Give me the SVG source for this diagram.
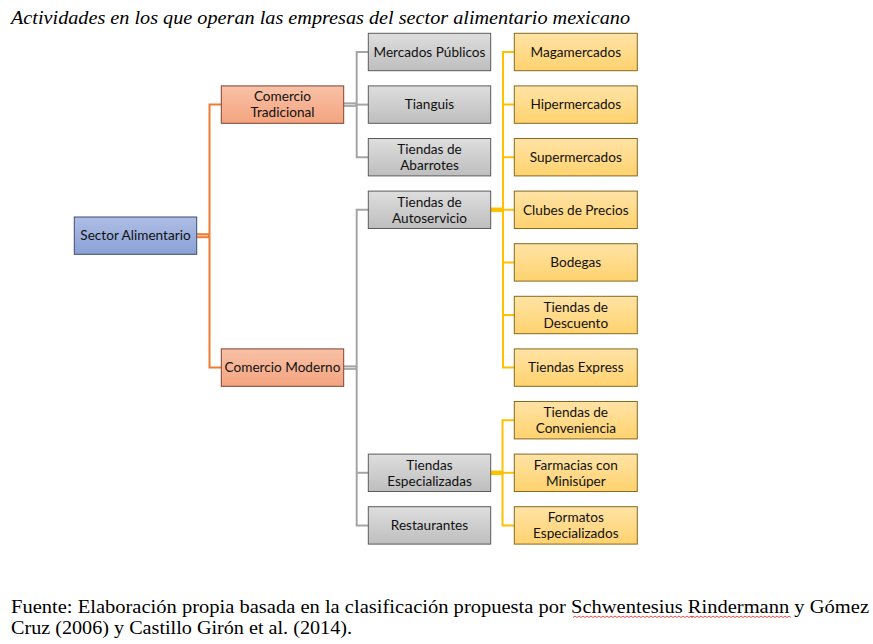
<svg xmlns="http://www.w3.org/2000/svg" width="873" height="644" viewBox="0 0 873 644">
<defs>
<linearGradient id="gBlue" x1="0" y1="0" x2="0" y2="1"><stop offset="0" stop-color="#AEBDE4"/><stop offset="1" stop-color="#8AA2D6"/></linearGradient>
<linearGradient id="gOrange" x1="0" y1="0" x2="0" y2="1"><stop offset="0" stop-color="#F8C1A6"/><stop offset="1" stop-color="#F4A47F"/></linearGradient>
<linearGradient id="gGray" x1="0" y1="0" x2="0" y2="1"><stop offset="0" stop-color="#DEDEDE"/><stop offset="1" stop-color="#BEBEBE"/></linearGradient>
<linearGradient id="gYellow" x1="0" y1="0" x2="0" y2="1"><stop offset="0" stop-color="#FFE3A6"/><stop offset="1" stop-color="#FFD26E"/></linearGradient>
</defs>
<style>
.box{stroke-width:1}
.blue{fill:url(#gBlue);stroke:#3E4C6E}
.orange{fill:url(#gOrange);stroke:#7E4330}
.gray{fill:url(#gGray);stroke:#5B5B5B}
.yellow{fill:url(#gYellow);stroke:#84691F}
.t{font-family:Lato,"Liberation Sans",Arial,sans-serif;font-size:13.6px;fill:#111;text-anchor:middle}
.co{stroke:#ED7D31;stroke-width:2;fill:none}
.cg{stroke:#A5A5A5;stroke-width:2;fill:none}
.cy{stroke:#FFC000;stroke-width:2;fill:none}
.dbl-o{stroke:#ED7D31;stroke-width:5;fill:none}
.dbl-oi{stroke:#F8CBAD;stroke-width:1.2;fill:none}
.dbl-g{stroke:#A5A5A5;stroke-width:4.5;fill:none}
.dbl-gi{stroke:#DCDCDC;stroke-width:1;fill:none}
.dbl-y{stroke:#FFC000;stroke-width:4.5;fill:none}
.serif{font-family:"Liberation Serif","Times New Roman",serif;fill:#000}
</style>

<text class="serif" x="11" y="24" font-size="18.5" font-style="italic" textLength="619" lengthAdjust="spacingAndGlyphs">Actividades en los que operan las empresas del sector alimentario mexicano</text>

<g id="connectors">
<path class="dbl-o" d="M196.7 235.7H209.5"/>
<path class="dbl-oi" d="M196.7 235.7H208"/>
<path class="co" d="M221.3 104.6H209.5V367.6H221.3"/>
<path class="dbl-g" d="M343.7 104.6H356.7"/>
<path class="dbl-gi" d="M343.7 104.6H355.5"/>
<path class="cg" d="M368.3 52H356.7V157.2H368.3"/>
<path class="cg" d="M356.7 104.6H368.3"/>
<path class="dbl-g" d="M343.7 367.6H356.7"/>
<path class="dbl-gi" d="M343.7 367.6H355.5"/>
<path class="cg" d="M368.3 209.8H356.7V525.4H368.3"/>
<path class="cg" d="M356.7 472.8H368.3"/>
<path class="dbl-y" d="M490.7 209.8H503"/>
<path class="cy" d="M514.3 52H503V367.6H514.3"/>
<path class="cy" d="M503 104.6H514.3M503 157.2H514.3M503 209.8H514.3M503 262.4H514.3M503 315H514.3"/>
<path class="dbl-y" d="M490.7 472.8H502.5"/>
<path class="cy" d="M514.3 420.2H502.5V525.4H514.3"/>
<path class="cy" d="M502.5 472.8H514.3"/>
</g>

<g id="n-sector"><rect class="box blue" x="74.3" y="217" width="122.4" height="37.3"/><text class="t" x="135.5" y="240.4">Sector Alimentario</text></g>

<g id="n-tradicional"><rect class="box orange" x="221.3" y="85.9" width="122.4" height="37.4"/><text class="t" x="282.5" y="101.3">Comercio</text><text class="t" x="282.5" y="117.3">Tradicional</text></g>
<g id="n-moderno"><rect class="box orange" x="221.3" y="348.9" width="122.4" height="37.4"/><text class="t" x="282.5" y="372.3">Comercio Moderno</text></g>

<g id="n-mercados"><rect class="box gray" x="368.3" y="33.3" width="122.4" height="37.4"/><text class="t" x="429.5" y="56.7">Mercados Públicos</text></g>
<g id="n-tianguis"><rect class="box gray" x="368.3" y="85.9" width="122.4" height="37.4"/><text class="t" x="429.5" y="109.3">Tianguis</text></g>
<g id="n-abarrotes"><rect class="box gray" x="368.3" y="138.5" width="122.4" height="37.4"/><text class="t" x="429.5" y="153.9">Tiendas de</text><text class="t" x="429.5" y="169.9">Abarrotes</text></g>
<g id="n-autoservicio"><rect class="box gray" x="368.3" y="191.1" width="122.4" height="37.4"/><text class="t" x="429.5" y="206.5">Tiendas de</text><text class="t" x="429.5" y="222.5">Autoservicio</text></g>
<g id="n-especializadas"><rect class="box gray" x="368.3" y="454.1" width="122.4" height="37.4"/><text class="t" x="429.5" y="469.5">Tiendas</text><text class="t" x="429.5" y="485.5">Especializadas</text></g>
<g id="n-restaurantes"><rect class="box gray" x="368.3" y="506.7" width="122.4" height="37.4"/><text class="t" x="429.5" y="530.1">Restaurantes</text></g>

<g id="n-magamercados"><rect class="box yellow" x="514.3" y="33.3" width="123" height="37.4"/><text class="t" x="575.8" y="56.7">Magamercados</text></g>
<g id="n-hipermercados"><rect class="box yellow" x="514.3" y="85.9" width="123" height="37.4"/><text class="t" x="575.8" y="109.3">Hipermercados</text></g>
<g id="n-supermercados"><rect class="box yellow" x="514.3" y="138.5" width="123" height="37.4"/><text class="t" x="575.8" y="161.9">Supermercados</text></g>
<g id="n-clubes"><rect class="box yellow" x="514.3" y="191.1" width="123" height="37.4"/><text class="t" x="575.8" y="214.5">Clubes de Precios</text></g>
<g id="n-bodegas"><rect class="box yellow" x="514.3" y="243.7" width="123" height="37.4"/><text class="t" x="575.8" y="267.1">Bodegas</text></g>
<g id="n-descuento"><rect class="box yellow" x="514.3" y="296.3" width="123" height="37.4"/><text class="t" x="575.8" y="311.7">Tiendas de</text><text class="t" x="575.8" y="327.7">Descuento</text></g>
<g id="n-express"><rect class="box yellow" x="514.3" y="348.9" width="123" height="37.4"/><text class="t" x="575.8" y="372.3">Tiendas Express</text></g>
<g id="n-conveniencia"><rect class="box yellow" x="514.3" y="401.5" width="123" height="37.4"/><text class="t" x="575.8" y="416.9">Tiendas de</text><text class="t" x="575.8" y="432.9">Conveniencia</text></g>
<g id="n-farmacias"><rect class="box yellow" x="514.3" y="454.1" width="123" height="37.4"/><text class="t" x="575.8" y="469.5">Farmacias con</text><text class="t" x="575.8" y="485.5">Minisúper</text></g>
<g id="n-formatos"><rect class="box yellow" x="514.3" y="506.7" width="123" height="37.4"/><text class="t" x="575.8" y="522.1">Formatos</text><text class="t" x="575.8" y="538.1">Especializados</text></g>

<text class="serif" x="11" y="613" font-size="19.5" textLength="858" lengthAdjust="spacingAndGlyphs">Fuente: Elaboración propia basada en la clasificación propuesta por Schwentesius Rindermann y Gómez</text>
<text class="serif" x="11" y="634" font-size="19.5" textLength="341" lengthAdjust="spacingAndGlyphs">Cruz (2006) y Castillo Girón et al. (2014).</text>
<path d="M573 617.5l2 -1.5 2 1.5 2 -1.5 2 1.5 2 -1.5 2 1.5 2 -1.5 2 1.5 2 -1.5 2 1.5 2 -1.5 2 1.5 2 -1.5 2 1.5 2 -1.5 2 1.5 2 -1.5 2 1.5 2 -1.5 2 1.5 2 -1.5 2 1.5 2 -1.5 2 1.5 2 -1.5 2 1.5 2 -1.5 2 1.5 2 -1.5 2 1.5 2 -1.5 2 1.5 2 -1.5 2 1.5 2 -1.5 2 1.5 2 -1.5 2 1.5 2 -1.5 2 1.5 2 -1.5 2 1.5 2 -1.5 2 1.5 2 -1.5 2 1.5 2 -1.5 2 1.5 2 -1.5 2 1.5 2 -1.5 2 1.5 2 -1.5 2 1.5 2 -1.5 2 1.5 2 -1.5 2 1.5 2 -1.5 2 1.5" fill="none" stroke="#E02020" stroke-width="0.8"/>
<path d="M691 617.5l2 -1.5 2 1.5 2 -1.5 2 1.5 2 -1.5 2 1.5 2 -1.5 2 1.5 2 -1.5 2 1.5 2 -1.5 2 1.5 2 -1.5 2 1.5 2 -1.5 2 1.5 2 -1.5 2 1.5 2 -1.5 2 1.5 2 -1.5 2 1.5 2 -1.5 2 1.5 2 -1.5 2 1.5 2 -1.5 2 1.5 2 -1.5 2 1.5 2 -1.5 2 1.5 2 -1.5 2 1.5 2 -1.5 2 1.5 2 -1.5 2 1.5 2 -1.5 2 1.5 2 -1.5 2 1.5 2 -1.5 2 1.5 2 -1.5 2 1.5 2 -1.5 2 1.5 2 -1.5 2 1.5" fill="none" stroke="#E02020" stroke-width="0.8"/>
</svg>
